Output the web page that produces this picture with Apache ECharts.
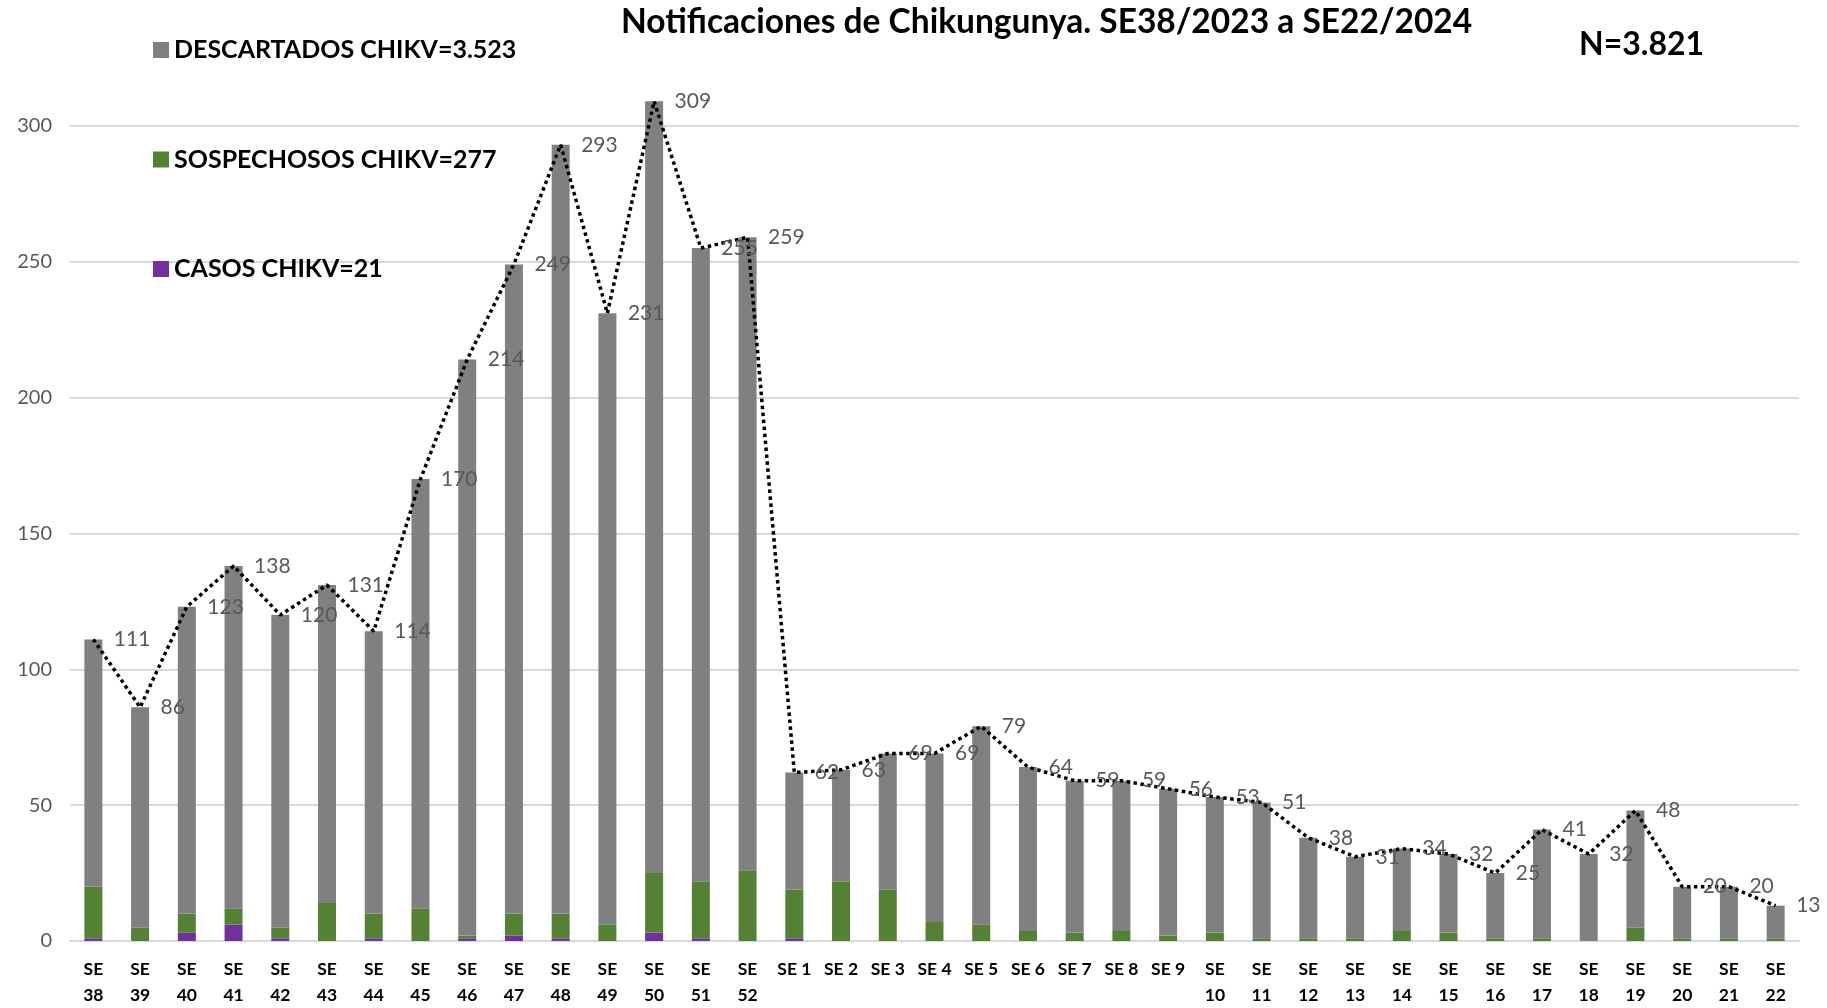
<!DOCTYPE html>
<html>
<head>
<meta charset="utf-8">
<script src="https://cdn.jsdelivr.net/npm/echarts@6/dist/echarts.min.js"></script>
<style>
  html, body { margin: 0; padding: 0; background: #fff; }
  #chart { width: 1827px; height: 1008px; }
</style>
</head>
<body>
<div id="chart"></div>
<script>
// semanas epidemiologicas SE38/2023 a SE22/2024
const semanas = [
  'SE\n38', 'SE\n39', 'SE\n40', 'SE\n41', 'SE\n42', 'SE\n43', 'SE\n44', 'SE\n45',
  'SE\n46', 'SE\n47', 'SE\n48', 'SE\n49', 'SE\n50', 'SE\n51', 'SE\n52',
  'SE 1', 'SE 2', 'SE 3', 'SE 4', 'SE 5', 'SE 6', 'SE 7', 'SE 8', 'SE 9',
  'SE\n10', 'SE\n11', 'SE\n12', 'SE\n13', 'SE\n14', 'SE\n15', 'SE\n16',
  'SE\n17', 'SE\n18', 'SE\n19', 'SE\n20', 'SE\n21', 'SE\n22'
]

const descartados = [
  91, 81, 113, 126, 115, 117, 104, 158, 212, 239, 283, 225, 284, 233, 233,
  43, 41, 50, 62, 73, 60, 56, 55, 54, 50, 50, 37, 30, 30, 29, 24, 40, 32, 43, 19, 19, 12
]
const sospechosos = [
  19, 5, 7, 6, 4, 14, 9, 12, 1, 8, 9, 6, 22, 21, 26,
  18, 22, 19, 7, 6, 4, 3, 4, 2, 3, 1, 1, 1, 4, 3, 1, 1, 0, 5, 1, 1, 1
]
const casos = [
  1, 0, 3, 6, 1, 0, 1, 0, 1, 2, 1, 0, 3, 1, 0,
  1, 0, 0, 0, 0, 0, 0, 0, 0, 0, 0, 0, 0, 0, 0, 0, 0, 0, 0, 0, 0, 0
]
// total notificado por semana (etiquetas de la linea)
const totales = [
  111, 86, 123, 138, 120, 131, 114, 170, 214, 249, 293, 231, 309, 255, 259,
  62, 63, 69, 69, 79, 64, 59, 59, 56, 53, 51, 38, 31, 34, 32, 25, 41, 32, 48, 20, 20, 13
]

const nombres = ['DESCARTADOS CHIKV=3.523', 'SOSPECHOSOS CHIKV=277', 'CASOS CHIKV=21']
const FONT = 'Lato'

const chart = echarts.init(document.getElementById('chart'))

const barra = (name, data, color) => ({
  name,
  type: 'bar',
  stack: 'total',
  data,
  barWidth: 18,
  clip: false,
  itemStyle: { color },
  emphasis: { disabled: true }
})

const option = {
  animation: false,
  textStyle: { fontFamily: FONT },
  title: [
    {
      text: 'Notificaciones de Chikungunya. SE38/2023 a SE22/2024',
      left: 621,
      top: 5,
      padding: 0,
      textStyle: { fontFamily: FONT, fontSize: 33.5, fontWeight: 'bold', color: '#000' }
    },
    {
      text: 'N=3.821',
      left: 1579,
      top: 29,
      padding: 0,
      textStyle: { fontFamily: FONT, fontSize: 32, fontWeight: 'bold', color: '#000' }
    }
  ],
  legend: {
    data: nombres,
    orient: 'vertical',
    left: 153,
    top: 35,
    padding: 0,
    itemGap: 79.5,
    itemWidth: 16,
    itemHeight: 16,
    icon: 'rect',
    selectedMode: false,
    textStyle: { fontFamily: FONT, fontSize: 25, lineHeight: 30, fontWeight: 'bold', color: '#000' }
  },
  grid: {
    left: 70,
    right: 28,
    top: 125.8,
    bottom: 66.5,
    containLabel: false
  },
  xAxis: {
    type: 'category',
    data: semanas,
    axisTick: { show: false },
    axisLine: { lineStyle: { color: '#d9d9d9', width: 2 } },
    axisLabel: {
      interval: 0,
      margin: 15,
      fontFamily: FONT,
      fontSize: 17.5,
      lineHeight: 26,
      fontWeight: 'bold',
      color: '#000'
    }
  },
  yAxis: {
    type: 'value',
    min: 0,
    max: 300,
    interval: 50,
    axisLine: { show: false },
    axisTick: { show: false },
    axisLabel: { fontFamily: FONT, fontSize: 20, color: '#595959', margin: 18 },
    splitLine: { lineStyle: { color: '#d9d9d9', width: 2 } }
  },
  series: [
    barra(nombres[2], casos, '#7030a0'),
    barra(nombres[1], sospechosos, '#548235'),
    barra(nombres[0], descartados, '#808080'),
    {
      name: 'Total',
      type: 'line',
      data: totales,
      clip: false,
      z: 5,
      symbol: 'circle',
      symbolSize: 1,
      itemStyle: { color: 'rgba(0,0,0,0)' },
      lineStyle: { color: '#000', width: 3.5, type: [3.5, 3.5] },
      label: {
        show: true,
        position: 'right',
        distance: 20,
        fontFamily: FONT,
        fontSize: 21,
        color: '#595959'
      },
      emphasis: { disabled: true }
    }
  ]
}

chart.setOption(option)
</script>
</body>
</html>
